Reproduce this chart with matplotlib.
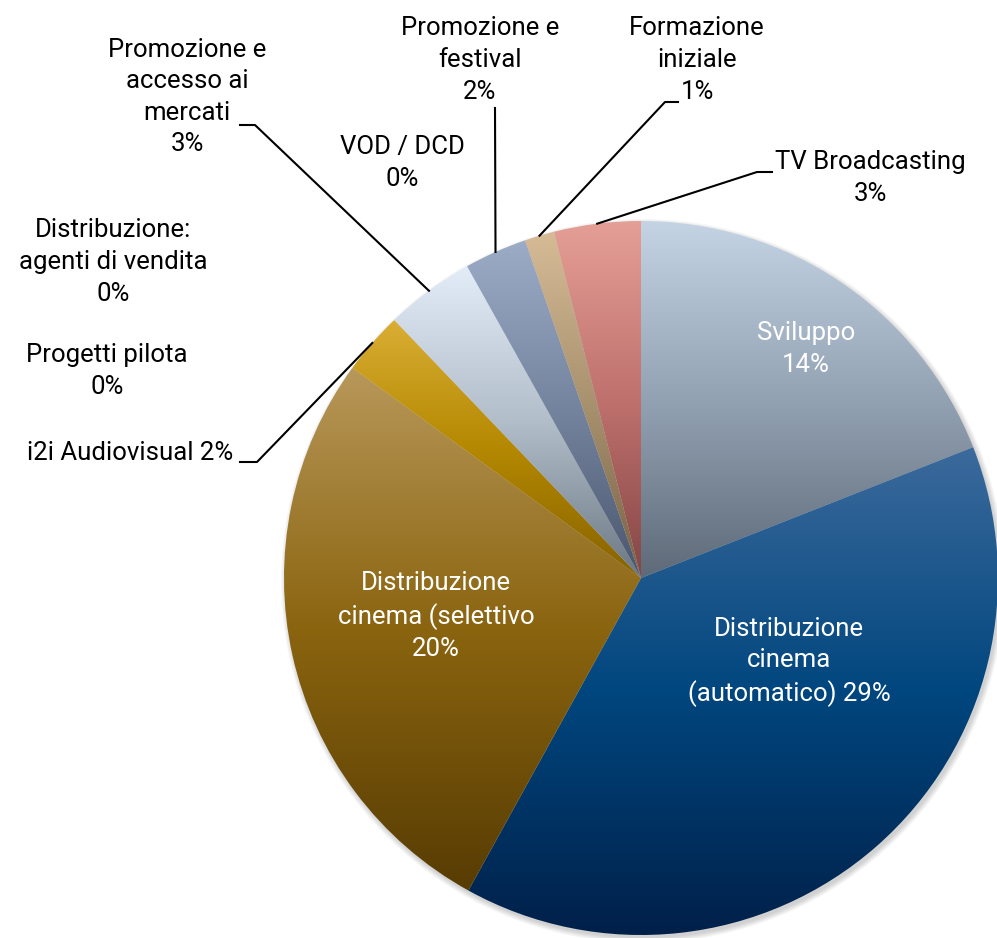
import numpy as np
import matplotlib
matplotlib.use("Agg")
import matplotlib.pyplot as plt
from matplotlib.colors import to_rgb

# slices, clockwise from 12 o'clock
categories = [
    "Sviluppo",
    "Distribuzione\ncinema\n(automatico)",
    "Distribuzione\ncinema (selettivo",
    "i2i Audiovisual",
    "Progetti pilota",
    "Distribuzione:\nagenti di vendita",
    "Promozione e\naccesso ai\nmercati",
    "VOD / DCD",
    "Promozione e\nfestival",
    "Formazione\niniziale",
    "TV Broadcasting",
]
values = [14.1, 28.9, 20.0, 2.1, 0.0, 0.0, 3.0, 0.0, 2.1, 1.0, 2.9]
pct_labels = ["14%", "29%", "20%", "2%", "0%", "0%", "3%", "0%", "2%", "1%", "3%"]

# gradient stops: top, middle, bottom
top_colors = ["#c5d4e4", "#3c6a9c", "#b8985a", "#d9ae34", "#e0e0e0", "#e0e0e0",
              "#e3edf8", "#e0e0e0", "#9cacc6", "#d6bb96", "#e59f97"]
mid_colors = ["#93a2b3", "#00467e", "#8a640f", "#b48800", "#b0b0b0", "#b0b0b0",
              "#b2bdca", "#b0b0b0", "#75849e", "#a8916e", "#bf716d"]
bot_colors = ["#5e6a78", "#001f48", "#573c03", "#876200", "#808080", "#808080",
              "#6c7784", "#808080", "#4a566e", "#776246", "#844646"]

W, H = 997, 938
CX, CY, R = 641, 578, 357

plt.rcParams['font.family'] = ['Roboto', 'DejaVu Sans']

fig = plt.figure(figsize=(W / 100, H / 100), dpi=100)
ax = fig.add_axes([0, 0, 1, 1])


def py(y):
    return H - y


# soft shadow
for k in range(6):
    sh = plt.Circle((CX + 2, py(CY) - 3), R + k, color="black",
                    alpha=0.03, lw=0, zorder=0)
    ax.add_patch(sh)

wedges, _ = ax.pie(values, center=(CX, py(CY)), radius=R, startangle=90,
                   counterclock=False, frame=True,
                   wedgeprops=dict(linewidth=0, facecolor="none"))

t = np.linspace(0, 1, 256)
for w, c0, cm, c1 in zip(wedges, top_colors, mid_colors, bot_colors):
    if w.theta2 - w.theta1 <= 0:
        continue
    v = w.get_path().vertices
    x0, x1 = v[:, 0].min(), v[:, 0].max()
    y0, y1 = v[:, 1].min(), v[:, 1].max()
    stops = np.array([to_rgb(c1), to_rgb(cm), to_rgb(c0)])
    grad = np.stack([np.interp(t, [0, 0.5, 1], stops[:, k]) for k in range(3)], axis=1)
    im = ax.imshow(grad[:, None, :], extent=(x0, x1, y0, y1), origin="lower",
                   aspect="auto", interpolation="bilinear", zorder=1)
    im.set_clip_path(w)

ax.set_xlim(0, W)
ax.set_ylim(0, H)
ax.set_aspect("equal")
ax.axis("off")

fs = 18.5
ls = 1.4
# inside labels (white)
inside = {0: (806, 349), 1: (789, 662), 2: (436, 616)}
for i, (x, y) in inside.items():
    txt = categories[i] + ("\n" if i != 1 else " ") + pct_labels[i]
    ax.text(x, py(y), txt, ha="center", va="center", color="white",
            fontsize=fs, linespacing=ls, zorder=3)

# outside labels: text center, elbow point, horizontal end
outside = {
    3: ((130, 453), (257, 462), (240, 462)),
    4: ((107, 371), None, None),
    5: ((113, 262), None, None),
    6: ((187, 97), (255, 125), (240, 125)),
    7: ((402, 163), None, None),
    8: ((480, 60), (495, 108), None),
    9: ((697, 60), (665, 102), (678, 102)),
    10: ((870, 178), (757, 172), (772, 172)),
}
for i, (pos, elbow, end) in outside.items():
    if i == 3:
        txt = categories[i] + " " + pct_labels[i]
    else:
        txt = categories[i] + "\n" + pct_labels[i]
    ax.text(pos[0], py(pos[1]), txt, ha="center", va="center", color="black",
            fontsize=fs, linespacing=ls, zorder=3)
    if elbow is None:
        continue
    w = wedges[i]
    mid = np.deg2rad((w.theta1 + w.theta2) / 2)
    sx = CX + R * np.cos(mid)
    sy = py(CY) + R * np.sin(mid)
    xs = [sx, elbow[0]]
    ys = [sy, py(elbow[1])]
    if end is not None:
        xs.append(end[0])
        ys.append(py(end[1]))
    ax.plot(xs, ys, color="black", lw=1.5, zorder=2)

fig.savefig("out.png", dpi=100)
